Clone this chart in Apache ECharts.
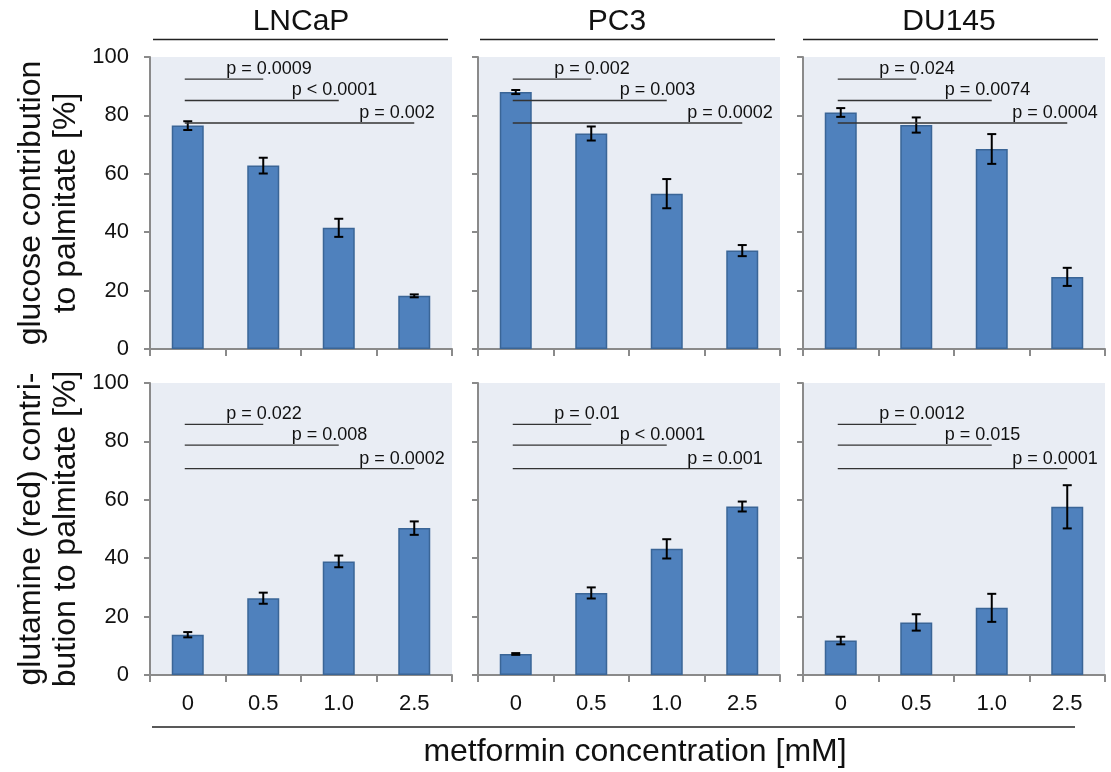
<!DOCTYPE html>
<html>
<head>
<meta charset="utf-8">
<script src="https://cdn.jsdelivr.net/npm/echarts@6/dist/echarts.min.js"></script>
<style>
html,body{margin:0;padding:0;background:#fff;}
#chart{width:1111px;height:772px;}
</style>
</head>
<body>
<div id="chart"></div>
<script>
// ---- data ----
const categories = ['0', '0.5', '1.0', '2.5'];
const cellLines = ['LNCaP', 'PC3', 'DU145'];
const glucoseMeans = [
  [76.5, 62.8, 41.5, 18.2],
  [88.0, 73.8, 53.2, 33.7],
  [81.0, 76.7, 68.5, 24.7]
];
const glucoseErr = [
  [1.5, 2.7, 3.1, 0.5],
  [0.7, 2.4, 5.0, 1.9],
  [1.5, 2.6, 5.1, 3.1]
];
const glutamineMeans = [
  [13.8, 26.3, 38.9, 50.3],
  [7.2, 28.1, 43.2, 57.7],
  [11.8, 18.0, 23.0, 57.6]
];
const glutamineErr = [
  [0.9, 1.9, 2.0, 2.3],
  [0.3, 1.9, 3.3, 1.7],
  [1.3, 2.8, 4.8, 7.4]
];
const pGlucose = [
  ['p = 0.0009', 'p < 0.0001', 'p = 0.002'],
  ['p = 0.002', 'p = 0.003', 'p = 0.0002'],
  ['p = 0.024', 'p = 0.0074', 'p = 0.0004']
];
const pGlutamine = [
  ['p = 0.022', 'p = 0.008', 'p = 0.0002'],
  ['p = 0.01', 'p < 0.0001', 'p = 0.001'],
  ['p = 0.0012', 'p = 0.015', 'p = 0.0001']
];
const comparisons = [[0, 1], [0, 2], [0, 3]];
const sigLevelsGlucose = [92.4, 85.1, 77.4];
const sigLevelsGlutamine = [85.8, 78.7, 70.7];
const yTicks = [0, 20, 40, 60, 80, 100];

// ---- layout / style ----
const FONT = '"Liberation Sans", Arial, sans-serif';
const panelLefts = [150, 478, 803];
const panelWidth = 302;
const rowTops = [57, 383];
const rowHeight = 292;
const textOffsets = [37, 47, 55];
const axisGray = '#8a8a8a';

const grids = [], xAxes = [], yAxes = [], series = [];
const rows = [
  {means: glucoseMeans, errs: glucoseErr, ps: pGlucose, levels: sigLevelsGlucose,
   name: 'glucose contribution\nto palmitate [%]'},
  {means: glutamineMeans, errs: glutamineErr, ps: pGlutamine, levels: sigLevelsGlutamine,
   name: 'glutamine (red) contri-\nbution to palmitate [%]'}
];

rows.forEach((row, r) => {
  cellLines.forEach((cl, c) => {
    const gi = grids.length;
    grids.push({
      left: panelLefts[c], top: rowTops[r], width: panelWidth, height: rowHeight,
      show: true, backgroundColor: '#e9edf4', borderWidth: 0,
      containLabel: false, outerBoundsMode: 'none'
    });
    xAxes.push({
      type: 'category', gridIndex: gi, data: categories, boundaryGap: true,
      axisLine: {lineStyle: {color: axisGray, width: 2}},
      axisTick: {show: true, length: 7, lineStyle: {color: axisGray, width: 2}},
      axisLabel: {show: r === 1, fontSize: 22, color: '#111', margin: 18, fontFamily: FONT}
    });
    yAxes.push({
      type: 'value', gridIndex: gi, min: 0, max: 100, interval: 20,
      splitLine: {show: false},
      axisLine: {show: true, lineStyle: {color: axisGray, width: 2}},
      axisTick: {show: true, length: 6, lineStyle: {color: axisGray, width: 2}},
      axisLabel: {show: c === 0, fontSize: 22, color: '#111', margin: 21, fontFamily: FONT,
        customValues: yTicks},
      name: c === 0 ? row.name : '',
      nameLocation: 'middle', nameRotate: 90, nameGap: 66,
      nameTextStyle: {fontSize: 32, lineHeight: 35, color: '#111', fontFamily: FONT}
    });
    series.push({
      type: 'bar', xAxisIndex: gi, yAxisIndex: gi,
      data: row.means[c], barWidth: 32,
      itemStyle: {color: '#4f81bd', borderColor: '#3a6596', borderWidth: 1.5},
      silent: true, animation: false
    });
    series.push({
      type: 'custom', xAxisIndex: gi, yAxisIndex: gi, animation: false, silent: true,
      data: row.means[c].map((m, i) => [i, m - row.errs[c][i], m + row.errs[c][i]]),
      encode: {x: 0, y: [1, 2]},
      renderItem: function (params, api) {
        const lo = api.coord([api.value(0), api.value(1)]);
        const hi = api.coord([api.value(0), api.value(2)]);
        const x = lo[0], hw = 4.5;
        const st = {stroke: '#000', lineWidth: 2};
        return {type: 'group', children: [
          {type: 'line', shape: {x1: x, y1: lo[1], x2: x, y2: hi[1]}, style: st},
          {type: 'line', shape: {x1: x - hw, y1: lo[1], x2: x + hw, y2: lo[1]}, style: st},
          {type: 'line', shape: {x1: x - hw, y1: hi[1], x2: x + hw, y2: hi[1]}, style: st}
        ]};
      },
      z: 5
    });
    series.push({
      type: 'custom', xAxisIndex: gi, yAxisIndex: gi, animation: false, silent: true,
      data: comparisons.map((cmp, k) => [cmp[0], cmp[1], row.levels[k], k]),
      encode: {x: [0, 1], y: 2},
      renderItem: function (params, api) {
        const k = api.value(3);
        const a = api.coord([api.value(0), api.value(2)]);
        const b = api.coord([api.value(1), api.value(2)]);
        return {type: 'group', children: [
          {type: 'line', shape: {x1: a[0] - 3, y1: a[1], x2: b[0], y2: b[1]},
           style: {stroke: '#333', lineWidth: 1.3}},
          {type: 'text', x: b[0] - textOffsets[k], y: b[1] - 1,
           style: {text: row.ps[c][k], fontSize: 18, fontFamily: FONT, fill: '#111',
             align: 'left', verticalAlign: 'bottom'}}
        ]};
      },
      z: 6
    });
  });
});

const titleX = [301, 617, 949];
const graphic = [];
cellLines.forEach((cl, c) => {
  graphic.push({type: 'text', x: titleX[c], y: 22,
    style: {text: cl, fontSize: 30, fontFamily: FONT, fill: '#111', align: 'center', verticalAlign: 'middle'}});
});
[[153, 448], [480, 775], [803, 1098]].forEach(s => {
  graphic.push({type: 'line', shape: {x1: s[0], y1: 39.5, x2: s[1], y2: 39.5},
    style: {stroke: '#222', lineWidth: 1.5}});
});
graphic.push({type: 'line', shape: {x1: 152, y1: 727, x2: 1075, y2: 727},
  style: {stroke: '#222', lineWidth: 1.5}});
graphic.push({type: 'text', x: 635, y: 752,
  style: {text: 'metformin concentration [mM]', fontSize: 32, fontFamily: FONT, fill: '#111',
    align: 'center', verticalAlign: 'middle'}});

const chart = echarts.init(document.getElementById('chart'), null, {renderer: 'canvas'});
chart.setOption({
  animation: false,
  backgroundColor: '#ffffff',
  grid: grids, xAxis: xAxes, yAxis: yAxes, series: series, graphic: graphic
});
</script>
</body>
</html>
